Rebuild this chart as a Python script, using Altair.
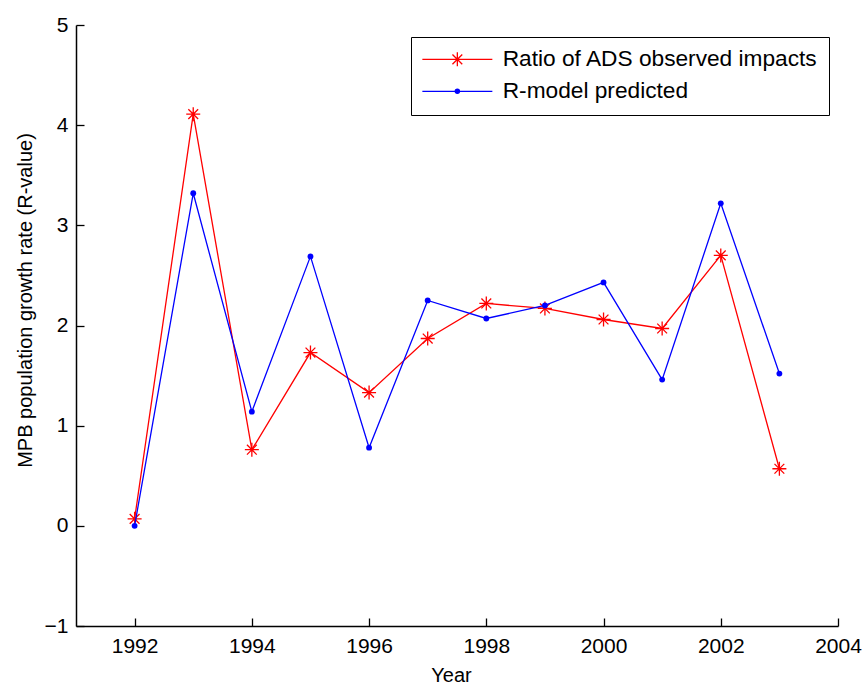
import altair as alt
import pandas as pd

# Observed vs. modelled mountain pine beetle growth rate, 1992-2003
years = list(range(1992, 2004))
ads_ratio = [0.07, 4.11, 0.76, 1.73, 1.33, 1.87, 2.22, 2.17, 2.06, 1.97, 2.70, 0.57]
r_model = [0.00, 3.32, 1.14, 2.69, 0.78, 2.25, 2.07, 2.20, 2.43, 1.46, 3.22, 1.52]

series_names = ["Ratio of ADS observed impacts", "R-model predicted"]
series_colors = ["#ff0000", "#0000ff"]

x_ticks = [1992, 1994, 1996, 1998, 2000, 2002, 2004]
y_ticks = [-1, 0, 1, 2, 3, 4, 5]

df = pd.DataFrame({
    "year": years * 2,
    "value": ads_ratio + r_model,
    "series": [series_names[0]] * len(years) + [series_names[1]] * len(years),
})

FONT = "Liberation Sans"
W, H = 762, 601

# asterisk marker (unit path, scaled by the symbol size)
ASTERISK = "M-1,0L1,0M0,-1L0,1M-0.7,-0.7L0.7,0.7M-0.7,0.7L0.7,-0.7"
# legend glyphs: a line segment with the series marker in its middle
LEG_RED = "M-5,0L5,0" + ASTERISK
LEG_BLUE = "M-5,0L5,0M-0.3,0A0.3,0.3 0 1,0 0.3,0A0.3,0.3 0 1,0 -0.3,0Z"

x_scale = alt.Scale(domain=[1991, 2004], nice=False, zero=False)
y_scale = alt.Scale(domain=[-1, 5], nice=False, zero=False)
color_scale = alt.Scale(domain=series_names, range=series_colors)

# main axes: domain line, labels and titles
x_main = alt.X(
    "year:Q", scale=x_scale,
    axis=alt.Axis(
        values=x_ticks, format="d", title="Year", ticks=False, labelPadding=9,
        titleX=375, titleY=55, titleBaseline="alphabetic", titleAlign="center",
    ),
)
y_main = alt.Y(
    "value:Q", scale=y_scale,
    axis=alt.Axis(
        values=y_ticks, format="d", title="MPB population growth rate (R-value)",
        ticks=False, labelPadding=8,
        titleX=-45, titleY=275, titleAngle=270, titleBaseline="alphabetic",
        titleAlign="center",
    ),
)

# tick-only axes flipped onto the same edges so the ticks point inward
x_ticks_axis = alt.X(
    "year:Q", scale=x_scale,
    axis=alt.Axis(values=x_ticks, orient="top", offset=-H, labels=False,
                  domain=False, title=None, tickSize=8),
)
y_ticks_axis = alt.Y(
    "value:Q", scale=y_scale,
    axis=alt.Axis(values=y_ticks, orient="right", offset=-W, labels=False,
                  domain=False, title=None, tickSize=8),
)
x_plain = alt.X("year:Q", scale=x_scale, axis=None)
y_plain = alt.Y("value:Q", scale=y_scale, axis=None)

legend = alt.Legend(
    title=None, orient="none", legendX=335, legendY=12,
    strokeColor="#000000", fillColor="#ffffff",
    padding=11, rowPadding=8, cornerRadius=0,
    symbolSize=196, symbolStrokeWidth=1.3, symbolOffset=24, labelOffset=34,
    symbolType={"expr": f"datum.value == '{series_names[0]}' ? '{LEG_RED}' : '{LEG_BLUE}'"},
    symbolFillColor={"expr": f"datum.value == '{series_names[0]}' ? '{series_colors[0]}' : '{series_colors[1]}'"},
    labelFont=FONT, labelFontSize=22.7, labelColor="#000000", labelLimit=0,
)

color_enc = alt.Color("series:N", scale=color_scale, legend=legend)

red = alt.Chart(df).transform_filter(alt.datum.series == series_names[0])
blue = alt.Chart(df).transform_filter(alt.datum.series == series_names[1])

red_line = red.mark_line(strokeWidth=1.3).encode(x=x_main, y=y_main, color=color_enc)
red_pts = red.mark_point(
    shape=ASTERISK, size=196, filled=False, strokeWidth=1.3, color=series_colors[0], opacity=1
).encode(x=x_ticks_axis, y=y_ticks_axis)
blue_line = blue.mark_line(strokeWidth=1.3).encode(x=x_plain, y=y_plain, color=color_enc)
blue_pts = blue.mark_point(
    shape="circle", size=34, filled=True, color=series_colors[1], opacity=1
).encode(x=x_plain, y=y_plain)

chart = alt.layer(red_line, red_pts, blue_line, blue_pts).resolve_axis(
    x="independent", y="independent"
).properties(
    width=W, height=H,
    autosize=alt.AutoSizeParams(type="none"),
    padding={"left": 76, "top": 25, "right": 26, "bottom": 59},
    background="#ffffff",
).configure_view(stroke=None).configure_axis(
    grid=False, domainColor="#000000", domainWidth=1.5,
    tickColor="#000000", tickWidth=1.3,
    labelFont=FONT, labelFontSize=21, labelColor="#000000",
    labelFlush=False, labelOverlap=False,
    titleFont=FONT, titleFontSize=20, titleColor="#000000", titleFontWeight="normal",
)

chart.save("out.html", embed_options={"renderer": "svg", "actions": False})
